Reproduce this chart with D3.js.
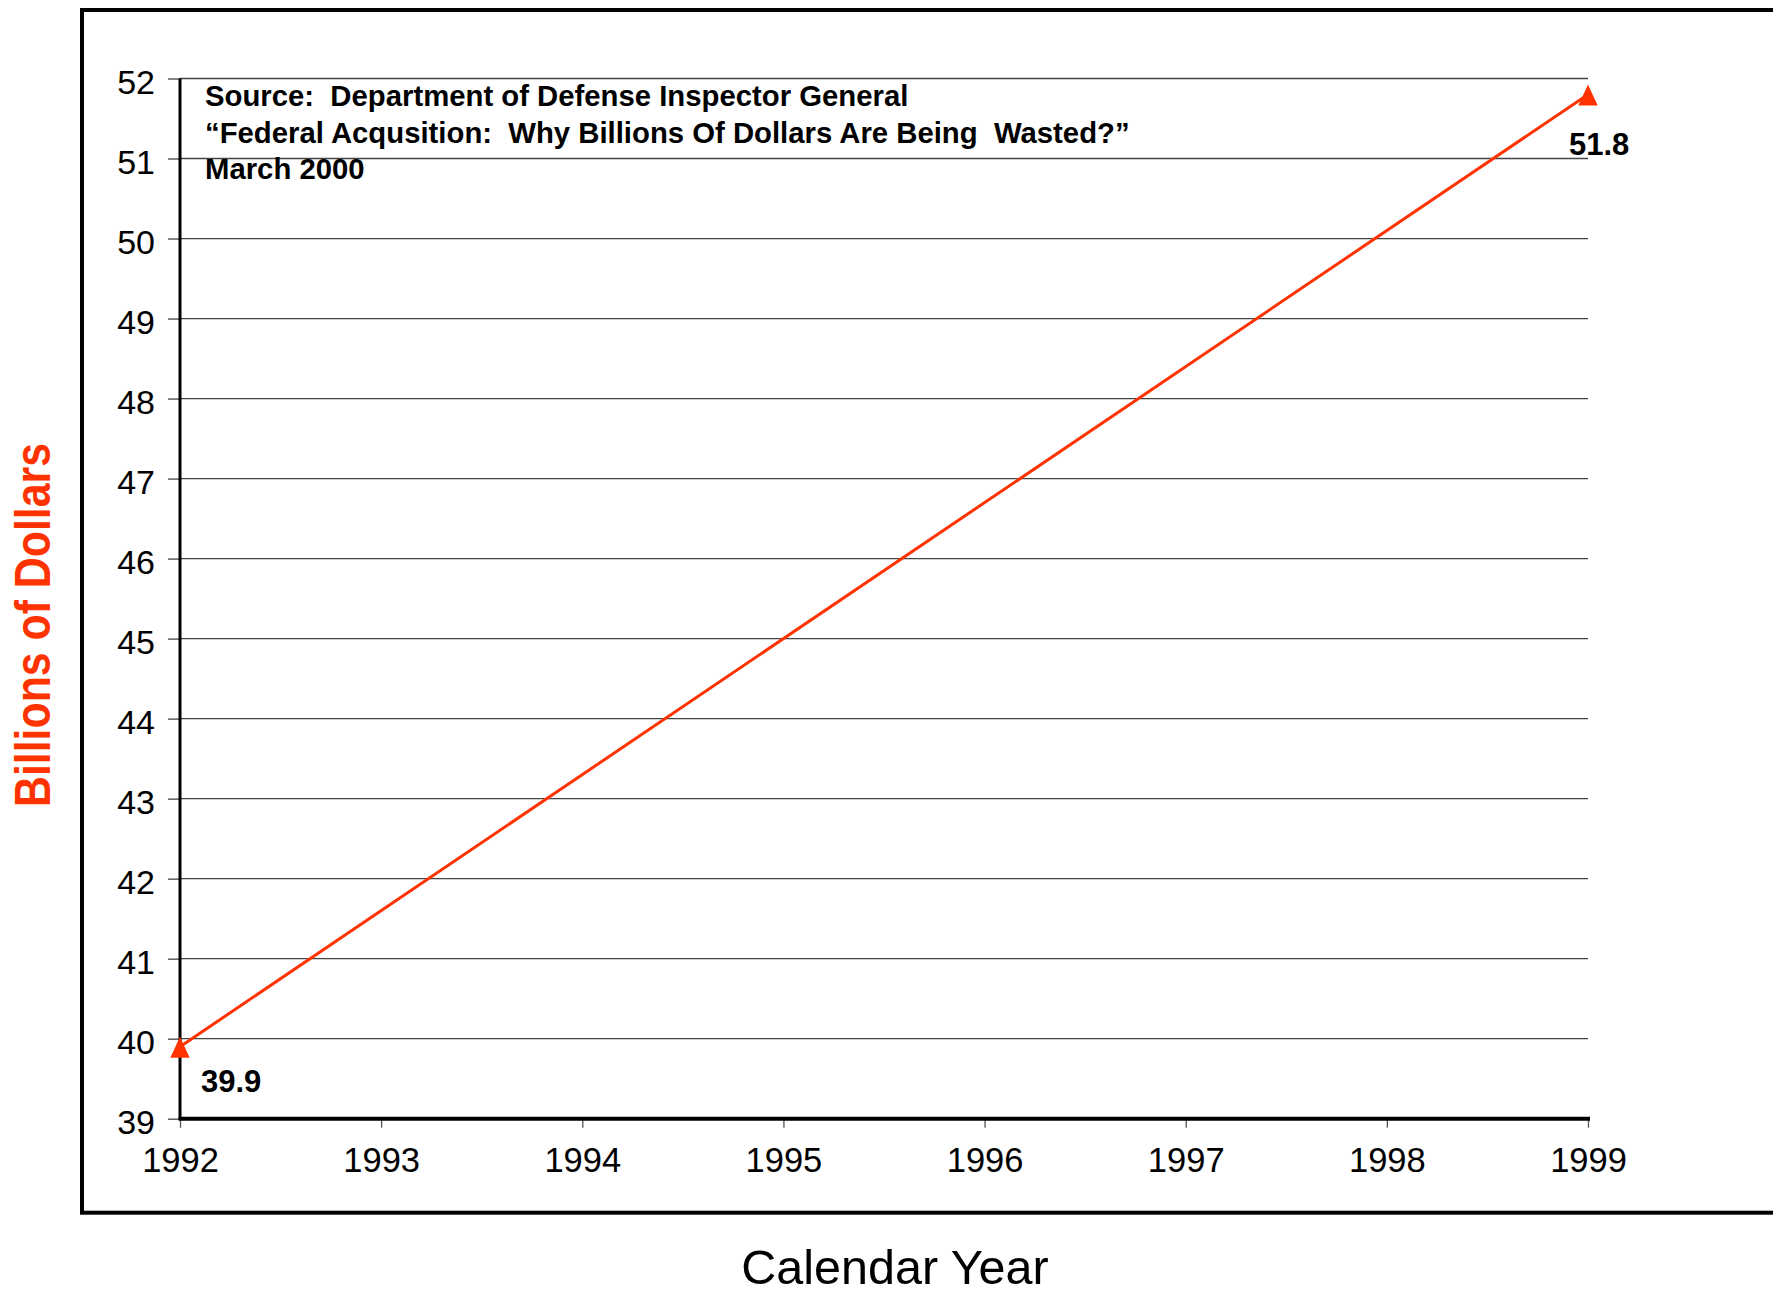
<!DOCTYPE html>
<html>
<head>
<meta charset="utf-8">
<script src="https://cdn.jsdelivr.net/npm/d3@7"></script>
<style>
body { margin: 0; background: #fff; }
text { font-family: "Liberation Sans", Arial, sans-serif; white-space: pre; }
</style>
</head>
<body>
<script>
var years = [1992, 1993, 1994, 1995, 1996, 1997, 1998, 1999]
var yTicks = [39, 40, 41, 42, 43, 44, 45, 46, 47, 48, 49, 50, 51, 52]
var pointYears = [1992, 1999]
var pointValues = [39.9, 51.8]
var sourceLines = [
  'Source:  Department of Defense Inspector General',
  '\u201CFederal Acqusition:  Why Billions Of Dollars Are Being  Wasted?\u201D',
  'March 2000'
]

var orange = '#ff3300'
var margin = {top: 78.5, right: 185, bottom: 175.3, left: 180}
var width = 1773 - margin.left - margin.right
var height = 1294 - margin.top - margin.bottom

var x = d3.scaleLinear().domain([1992, 1999]).range([0, width])
var y = d3.scaleLinear().domain([39, 52]).range([height, 0])

var root = d3.select('body').append('svg')
  .attr('width', 1773)
  .attr('height', 1294)

// outer frame, right side runs off the page
root.append('rect')
  .attr('x', 82).attr('y', 10)
  .attr('width', 1760).attr('height', 1202.7)
  .attr('fill', 'none').attr('stroke', '#000').attr('stroke-width', 4)

var svg = root.append('g')
  .attr('transform', `translate(${margin.left}, ${margin.top})`)

// gridlines
svg.selectAll('.grid')
  .data(yTicks.slice(1))
  .enter().append('line')
  .attr('x1', 0).attr('x2', width)
  .attr('y1', d => y(d)).attr('y2', d => y(d))
  .attr('stroke', '#444').attr('stroke-width', 1.3)

var yAxis = svg.append('g')
  .call(d3.axisLeft(y).tickValues(yTicks).tickSize(12).tickPadding(13))
yAxis.select('.domain').remove()
yAxis.selectAll('line').attr('stroke', '#444').attr('stroke-width', 1.3)
yAxis.selectAll('text')
  .attr('dy', '0.43em')
  .style('font-size', '34px').attr('fill', '#000')

var xAxis = svg.append('g')
  .attr('transform', `translate(0, ${height})`)
  .call(d3.axisBottom(x).tickValues(years).tickFormat(d3.format('d')).tickSize(9).tickPadding(20))
xAxis.select('.domain').remove()
xAxis.selectAll('line').attr('stroke', '#555').attr('stroke-width', 1.3)
xAxis.selectAll('text')
  .attr('dy', '0.71em')
  .style('font-size', '34.5px').attr('fill', '#000')

// axis lines
svg.append('line')
  .attr('x1', 0).attr('x2', 0).attr('y1', 0).attr('y2', height)
  .attr('stroke', '#000').attr('stroke-width', 3)
svg.append('line')
  .attr('x1', -1.5).attr('x2', width + 2).attr('y1', height).attr('y2', height)
  .attr('stroke', '#000').attr('stroke-width', 4)

var pts = pointYears.map((d, i) => ({year: d, value: pointValues[i]}))

svg.append('path')
  .datum(pts)
  .attr('fill', 'none')
  .attr('stroke', orange)
  .attr('stroke-width', 3)
  .attr('d', d3.line().x(d => x(d.year)).y(d => y(d.value)))

svg.selectAll('.marker')
  .data(pts)
  .enter().append('path')
  .attr('transform', d => `translate(${x(d.year)}, ${y(d.value)})`)
  .attr('d', 'M0,-10L9.7,11L-9.7,11Z')
  .attr('fill', orange)

var labelOffsets = [[21, 45], [-19, 60.5]]
svg.selectAll('.val')
  .data(pts)
  .enter().append('text')
  .attr('x', (d, i) => x(d.year) + labelOffsets[i][0])
  .attr('y', (d, i) => y(d.value) + labelOffsets[i][1])
  .style('font-size', '31px').style('font-weight', 'bold')
  .text(d => d.value.toFixed(1))

svg.selectAll('.src')
  .data(sourceLines)
  .enter().append('text')
  .attr('x', 25)
  .attr('y', (d, i) => 27.5 + i * 36.7)
  .style('font-size', '29.3px').style('font-weight', 'bold')
  .text(d => d)

root.append('text')
  .attr('transform', 'translate(50, 625) rotate(-90)')
  .attr('text-anchor', 'middle')
  .attr('textLength', 364).attr('lengthAdjust', 'spacingAndGlyphs')
  .style('font-size', '50px').style('font-weight', 'bold')
  .attr('fill', orange)
  .text('Billions of Dollars')

root.append('text')
  .attr('x', 895).attr('y', 1284)
  .attr('text-anchor', 'middle')
  .style('font-size', '48.5px')
  .text('Calendar Year')
</script>
</body>
</html>
